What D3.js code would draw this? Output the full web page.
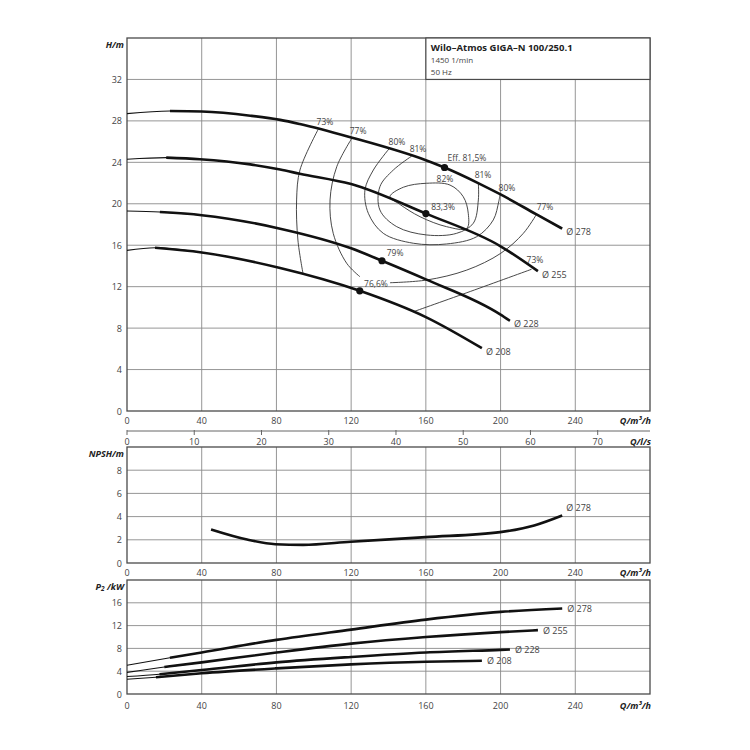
<!DOCTYPE html>
<html><head><meta charset="utf-8">
<script src="https://cdn.jsdelivr.net/npm/d3@7"></script>
<style>
html,body{margin:0;padding:0;background:#fff;}
svg{display:block;font-family:"Open Sans","Noto Sans",sans-serif;}
</style></head>
<body><svg id="c" width="750" height="750"></svg>
<script>
// ---------- DATA ----------
const qTicks = [0, 40, 80, 120, 160, 200, 240];
const lsTicks = [0, 10, 20, 30, 40, 50, 60, 70];
const hTicks = [0, 4, 8, 12, 16, 20, 24, 28, 32];
const npshTicks = [0, 2, 4, 6, 8];
const pTicks = [0, 4, 8, 12, 16];
const diameters = ["Ø 278", "Ø 255", "Ø 228", "Ø 208"];

// head curves [Q m³/h, H m]
const head278 = [[0,28.7],[23,28.95],[40,28.9],[66,28.5],[82,28.1],[92.5,27.7],[120,26.4],[160,24.2],[170,23.5],[188,22.0],[200,20.9],[219,19.0],[233,17.6]];
const head255 = [[0,24.3],[21,24.45],[39,24.3],[66,23.8],[82,23.3],[92.5,22.9],[120,21.9],[160,19.05],[200,15.9],[220,13.5]];
const head228 = [[0,19.3],[17.6,19.2],[40,18.9],[82,17.6],[120,15.7],[136.5,14.5],[160,12.7],[200,9.3],[205,8.7]];
const head208 = [[0,15.5],[15,15.75],[40,15.3],[82,13.8],[124.6,11.6],[160,9.06],[190,6.06]];

// best efficiency points [Q, H]
const bepPoints = [[170,23.5],[160,19.05],[136.5,14.5],[124.6,11.6]];

// efficiency iso-lines [Q, H]
const eff73a = [[102.4,27.2],[92.6,23.26],[90.8,20.37],[91.5,16.5],[94.2,13.3]];
const eff77a = [[120.3,26.3],[112.3,23.58],[108.7,20.37],[110.4,17.15],[117.6,14.26],[124.7,12.96]];
const eff77b = [[140.8,12.38],[160.4,12.64],[181.9,13.6],[200.1,15.22],[212.2,17.15],[219.3,19.0]];
const eff80 = [[140.5,25.35],[131.9,23.26],[127.4,21.33],[129.2,19.08],[137.2,17.15],[153.3,16.19],[171.1,16.12],[187.2,16.82],[196.1,18.44],[199,20.2],[199.7,20.85]];
const eff81 = [[152.4,24.6],[142.6,23.26],[135.4,21.65],[135.4,19.4],[144.4,17.79],[160.4,16.99],[176.5,17.15],[185.4,18.12],[188.1,20.37],[188.1,22.0]];
const eff82 = [[140.8,20.69],[148,21.6],[160.4,21.98],[172.9,21.81],[180,20.69],[182.7,19.08],[181.9,17.63],[171.1,17.79],[156.9,18.75],[146,19.95]];
const eff73b = [[216.6,13.68],[184,11.55],[153.3,9.58]];

// efficiency labels [text, Q, H]
const effLabels = [["73%",106,27.9],["77%",123.7,27.1],["80%",144.5,26.0],["81%",155.8,25.3],
  ["Eff. 81,5%",182,24.5],["82%",170.2,22.4],["81%",190.6,22.8],["80%",203.4,21.6],["77%",223.8,19.7],
  ["83,3%",169.2,19.7],["79%",143.5,15.25],["76,6%",133.3,12.26],["73%",218.4,14.67]];

// NPSH [Q, m]
const npsh278 = [[45,2.89],[64.3,2.02],[79.4,1.62],[94.3,1.56],[119.8,1.83],[160,2.23],[199.8,2.66],[218,3.24],[233,4.1]];

// power P2 [Q, kW]
const power278 = [[0,5.05],[23,6.35],[40,7.28],[80,9.5],[120,11.3],[160,13.05],[200,14.4],[233,15.0]];
const power255 = [[0,3.8],[20,4.74],[40,5.55],[80,7.28],[120,8.84],[160,10.0],[200,10.86],[220,11.2]];
const power228 = [[0,3.06],[17.4,3.47],[40,4.2],[80,5.55],[120,6.5],[160,7.28],[200,7.74],[205,7.8]];
const power208 = [[0,2.6],[15.5,2.95],[40,3.64],[80,4.5],[120,5.2],[160,5.66],[190,5.83]];

const titleLines = ["Wilo–Atmos GIGA–N 100/250.1", "1450 1/min", "50 Hz"];

// ---------- CHART ----------
const svg = d3.select("#c");
const X0 = 127, X1 = 650;
const x = d3.scaleLinear().domain([0, 280]).range([X0, X1]);
const xls = d3.scaleLinear().domain([0, 280/3.6]).range([X0, X1]);
const yH = d3.scaleLinear().domain([0, 36]).range([411, 38]);
const yN = d3.scaleLinear().domain([0, 10]).range([563, 447]);
const yP = d3.scaleLinear().domain([0, 20]).range([694, 580]);

const GRID = "#8a8a8a", FRAME = "#4a4a4a", TXT = "#444";

function panel(y, yt, yLabel, xLabelY) {
  const g = svg.append("g");
  const [b, t] = y.range();
  g.selectAll(".vg").data(qTicks.filter(d => d > 0)).enter().append("line")
    .attr("x1", d => x(d)).attr("x2", d => x(d)).attr("y1", t).attr("y2", b)
    .attr("stroke", GRID).attr("stroke-width", 0.9);
  g.selectAll(".hg").data(yt.filter(d => d > 0)).enter().append("line")
    .attr("x1", X0).attr("x2", X1).attr("y1", d => y(d)).attr("y2", d => y(d))
    .attr("stroke", GRID).attr("stroke-width", 0.9);
  g.append("rect").attr("x", X0).attr("y", t).attr("width", X1 - X0).attr("height", b - t)
    .attr("fill", "none").attr("stroke", FRAME).attr("stroke-width", 1.3);
  g.selectAll(".yl").data(yt).enter().append("text")
    .attr("x", X0 - 5).attr("y", d => y(d)).attr("text-anchor", "end")
    .attr("dominant-baseline", "central").attr("font-size", 9).attr("fill", TXT).text(d => d);
  g.selectAll(".xl").data(qTicks).enter().append("text")
    .attr("x", d => x(d)).attr("y", xLabelY).attr("text-anchor", "middle")
    .attr("dominant-baseline", "central").attr("font-size", 9).attr("fill", TXT).text(d => d);
  g.append("text").attr("x", X1 + 1).attr("y", xLabelY).attr("text-anchor", "end")
    .attr("dominant-baseline", "central").attr("font-size", 9).attr("font-weight", "bold")
    .attr("font-style", "italic").attr("fill", "#222").text("Q/m³/h");
  const yl = g.append("text").attr("x", X0 - 3).attr("y", t + 6).attr("text-anchor", "end")
    .attr("dominant-baseline", "central").attr("font-size", 9).attr("font-weight", "bold")
    .attr("font-style", "italic").attr("fill", "#222");
  yLabel(yl);
  return g;
}

panel(yH, hTicks, t => t.text("H/m"), 420);
panel(yN, npshTicks, t => t.text("NPSH/m"), 572);
panel(yP, pTicks, t => { t.append("tspan").text("P"); t.append("tspan").attr("font-size", 6.5).attr("dy", 2).text("2"); t.append("tspan").attr("dy", -2).text(" /kW"); }, 705);

// l/s axis
const lsY = 431;
svg.append("line").attr("x1", X0).attr("x2", X1).attr("y1", lsY).attr("y2", lsY)
  .attr("stroke", "#666").attr("stroke-width", 1);
svg.selectAll(".lst").data(lsTicks).enter().append("line")
  .attr("x1", d => xls(d)).attr("x2", d => xls(d)).attr("y1", lsY - 1).attr("y2", lsY + 4)
  .attr("stroke", "#666").attr("stroke-width", 1);
svg.selectAll(".lsl").data(lsTicks).enter().append("text")
  .attr("x", d => xls(d)).attr("y", lsY + 10).attr("text-anchor", "middle")
  .attr("dominant-baseline", "central").attr("font-size", 9).attr("fill", TXT).text(d => d);
svg.append("text").attr("x", X1 + 1).attr("y", lsY + 10).attr("text-anchor", "end")
  .attr("dominant-baseline", "central").attr("font-size", 9).attr("font-weight", "bold")
  .attr("font-style", "italic").attr("fill", "#222").text("Q/l/s");

// title box
svg.append("rect").attr("x", x(160)).attr("y", yH(36)).attr("width", X1 - x(160)).attr("height", yH(32) - yH(36))
  .attr("fill", "#fff").attr("stroke", FRAME).attr("stroke-width", 1.2);
svg.append("text").attr("x", x(160) + 5).attr("y", 47).attr("dominant-baseline", "central")
  .attr("font-size", 9.5).attr("font-weight", "bold").attr("fill", "#222").text(titleLines[0]);
svg.append("text").attr("x", x(160) + 5).attr("y", 59).attr("dominant-baseline", "central")
  .attr("font-size", 8).attr("fill", TXT).text(titleLines[1]);
svg.append("text").attr("x", x(160) + 5).attr("y", 71).attr("dominant-baseline", "central")
  .attr("font-size", 8).attr("fill", TXT).text(titleLines[2]);

// efficiency iso-lines
const cLine = d3.line().x(d => x(d[0])).y(d => yH(d[1])).curve(d3.curveCatmullRom.alpha(0.5));
const cLoop = d3.line().x(d => x(d[0])).y(d => yH(d[1])).curve(d3.curveCatmullRomClosed.alpha(0.5));
[eff73a, eff77a, eff77b, eff80, eff81, eff73b].forEach(arr => {
  svg.append("path").attr("d", cLine(arr)).attr("fill", "none").attr("stroke", "#333").attr("stroke-width", 0.9);
});
svg.append("path").attr("d", cLoop(eff82)).attr("fill", "none").attr("stroke", "#333").attr("stroke-width", 0.9);

// curves with thin start + thick body
function drawCurve(data, y, label, labelDx, labelDy, thinStart) {
  const ln = d3.line().x(d => x(d[0])).y(d => y(d[1])).curve(d3.curveMonotoneX);
  if (thinStart) {
    svg.append("path").attr("d", ln(data.slice(0, 3))).attr("fill", "none").attr("stroke", "#111").attr("stroke-width", 1.1);
    svg.append("path").attr("d", ln(data.slice(1))).attr("fill", "none").attr("stroke", "#111").attr("stroke-width", 2.6);
  } else {
    svg.append("path").attr("d", ln(data)).attr("fill", "none").attr("stroke", "#111").attr("stroke-width", 2.6);
  }
  const last = data[data.length - 1];
  svg.append("text").attr("x", x(last[0]) + labelDx).attr("y", y(last[1]) + labelDy)
    .attr("dominant-baseline", "central").attr("font-size", 9).attr("fill", TXT).text(label);
}
[head278, head255, head228, head208].forEach((d, i) => drawCurve(d, yH, diameters[i], 4, 3, true));
[power278, power255, power228, power208].forEach((d, i) => drawCurve(d, yP, diameters[i], 5, 0, true));
drawCurve(npsh278, yN, diameters[0], 4, -8, false);

// BEP dots
svg.selectAll(".bep").data(bepPoints).enter().append("circle")
  .attr("cx", d => x(d[0])).attr("cy", d => yH(d[1])).attr("r", 3.6).attr("fill", "#111");

// efficiency labels
svg.selectAll(".el").data(effLabels).enter().append("text")
  .attr("x", d => x(d[1])).attr("y", d => yH(d[2])).attr("text-anchor", "middle")
  .attr("dominant-baseline", "central").attr("font-size", 8.5).attr("fill", TXT).text(d => d[0]);
</script></body></html>
